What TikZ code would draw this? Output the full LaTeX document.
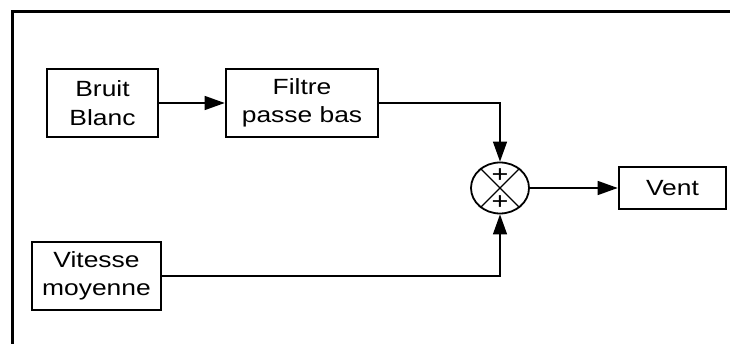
\documentclass[tikz,border=0pt]{standalone}
\usepackage{fontspec}
\setmainfont[FakeStretch=1.2]{Liberation Sans}
\usetikzlibrary{shapes.geometric,arrows.meta}
\begin{document}
\begin{tikzpicture}[x=1pt,y=-1pt,
  blk/.style={draw,line width=2.6pt,rectangle,align=center,inner sep=0pt,
    font=\fontsize{22}{28.5}\selectfont},
  conn/.style={line width=1.3pt,-{Triangle[length=20pt,width=14pt]}},
  sgn/.style={font=\fontsize{24}{24}\selectfont,inner sep=0pt}]
\useasboundingbox (0,0) rectangle (730,344);
\draw[line width=3pt] (730,12) -- (12,12) -- (12,344);
\node[blk,minimum width=111pt,minimum height=68pt] (bb) at (102.5,103) {Bruit\\Blanc};
\node[blk,minimum width=152pt,minimum height=68pt] (fpb) at (302,103) {Filtre\\passe bas};
\node[blk,minimum width=129pt,minimum height=68pt] (vm) at (96.5,276) {Vitesse\\moyenne};
\node[blk,minimum width=107pt,minimum height=42pt] (vent) at (672.5,188) {Vent};
\node[draw,ellipse,line width=1.8pt,minimum width=58pt,minimum height=51pt,inner sep=0pt] (sum) at (500,188) {};
\draw[line width=1.3pt] (sum.135) -- (sum.-45);
\draw[line width=1.3pt] (sum.45) -- (sum.-135);
\node[sgn] (p1) at (500,176) {+};
\node[sgn] (p2) at (500,203) {+};
\draw[conn] (bb.east) -- (fpb.west);
\draw[conn] (fpb.east) -| (sum.north);
\draw[conn] (vm.east) -| (sum.south);
\draw[conn] (sum.east) -- (vent.west);
\end{tikzpicture}
\end{document}
